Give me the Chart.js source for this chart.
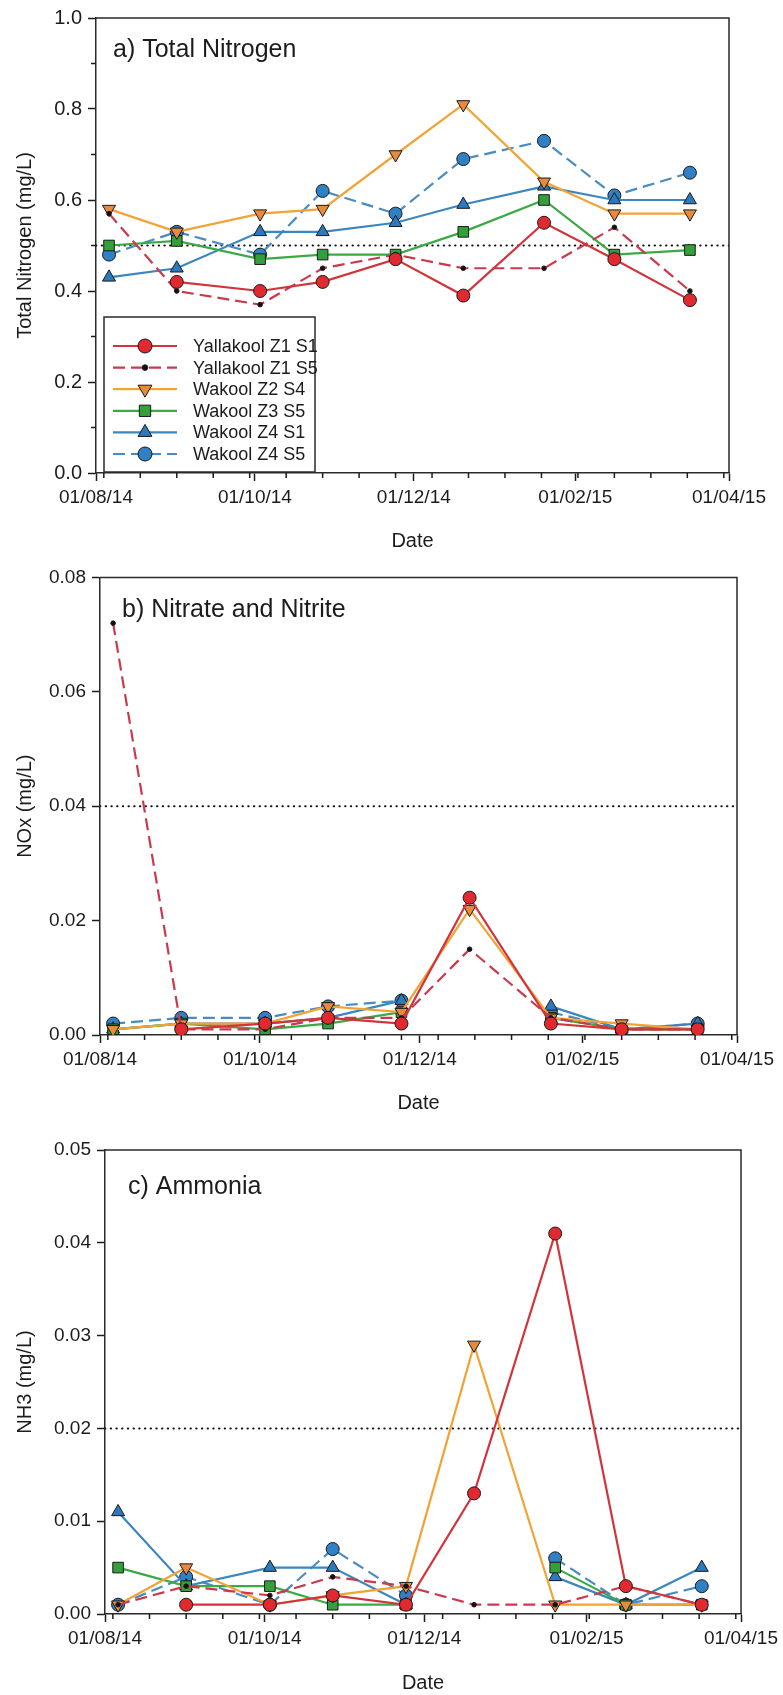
<!DOCTYPE html>
<html>
<head>
<meta charset="utf-8">
<title>Nitrogen – Yallakool and Wakool</title>
<script src="https://cdn.jsdelivr.net/npm/chart.js@4.4.1/dist/chart.umd.min.js"></script>
<style>
  html, body { margin: 0; padding: 0; background: #ffffff; }
  #page { position: relative; width: 783px; height: 1695px; overflow: hidden; }
  canvas { position: absolute; left: 0; }
</style>
</head>
<body>
<div id="page">
  <canvas id="tn" width="783" height="560" style="top:0px"></canvas>
  <canvas id="nox" width="783" height="560" style="top:560px"></canvas>
  <canvas id="nh3" width="783" height="575" style="top:1120px"></canvas>
</div>
<script>
// ---- sampling dates and x axis ----
const sampleDates = ['2014-08-06', '2014-09-01', '2014-10-03', '2014-10-27', '2014-11-24',
                     '2014-12-20', '2015-01-20', '2015-02-16', '2015-03-17'];
const axisTickDates = ['2014-08-01', '2014-10-01', '2014-12-01', '2015-02-01', '2015-04-01'];
const axisTickLabels = ['01/08/14', '01/10/14', '01/12/14', '01/02/15', '01/04/15'];
const minorTickFirstDate = '2014-08-04';   // fortnightly minor ticks
const minorTickStepDays = 14;

const seriesNames = ['Yallakool Z1 S1', 'Yallakool Z1 S5', 'Wakool Z2 S4',
                     'Wakool Z3 S5', 'Wakool Z4 S1', 'Wakool Z4 S5'];

// ---- a) Total nitrogen (mg/L) ----
const tnYallakoolZ1S1 = [null, 0.42, 0.40, 0.42, 0.47, 0.39, 0.55, 0.47, 0.38];
const tnYallakoolZ1S5 = [0.57, 0.40, 0.37, 0.45, 0.48, 0.45, 0.45, 0.54, 0.40];
const tnWakoolZ2S4    = [0.58, 0.53, 0.57, 0.58, 0.70, 0.81, 0.64, 0.57, 0.57];
const tnWakoolZ3S5    = [0.50, 0.51, 0.47, 0.48, 0.48, 0.53, 0.60, 0.48, 0.49];
const tnWakoolZ4S1    = [0.43, 0.45, 0.53, 0.53, 0.55, 0.59, 0.63, 0.60, 0.60];
const tnWakoolZ4S5    = [0.48, 0.53, 0.48, 0.62, 0.57, 0.69, 0.73, 0.61, 0.66];
const tnGuideline = 0.5;
const tnTicks = [0, 0.2, 0.4, 0.6, 0.8, 1.0];
const tnMinorTicks = [0.1, 0.3, 0.5, 0.7, 0.9];

// ---- b) Nitrate and nitrite, NOx (mg/L) ----
const noxYallakoolZ1S1 = [null, 0.001, 0.002, 0.003, 0.002, 0.024, 0.002, 0.001, 0.001];
const noxYallakoolZ1S5 = [0.072, 0.001, 0.001, 0.003, 0.003, 0.015, 0.003, 0.001, 0.001];
const noxWakoolZ2S4    = [0.001, 0.002, 0.002, 0.005, 0.004, 0.022, 0.003, 0.002, 0.001];
const noxWakoolZ3S5    = [0.001, 0.002, 0.001, 0.002, 0.004, null, 0.003, 0.001, 0.001];
const noxWakoolZ4S1    = [0.001, 0.002, 0.002, 0.003, 0.006, null, 0.005, 0.001, 0.002];
const noxWakoolZ4S5    = [0.002, 0.003, 0.003, 0.005, 0.006, null, 0.004, 0.001, 0.002];
const noxGuideline = 0.04;
const noxTicks = [0, 0.02, 0.04, 0.06, 0.08];

// ---- c) Ammonia, NH3 (mg/L) ----
const nh3YallakoolZ1S1 = [null, 0.001, 0.001, 0.002, 0.001, 0.013, 0.041, 0.003, 0.001];
const nh3YallakoolZ1S5 = [0.001, 0.003, 0.002, 0.004, 0.003, 0.001, 0.001, 0.003, 0.001];
const nh3WakoolZ2S4    = [0.001, 0.005, 0.001, 0.002, 0.003, 0.029, 0.001, 0.001, 0.001];
const nh3WakoolZ3S5    = [0.005, 0.003, 0.003, 0.001, 0.001, null, 0.005, 0.001, 0.001];
const nh3WakoolZ4S1    = [0.011, 0.003, 0.005, 0.005, 0.001, null, 0.004, 0.001, 0.005];
const nh3WakoolZ4S5    = [0.001, 0.004, 0.001, 0.007, 0.002, null, 0.006, 0.001, 0.003];
const nh3Guideline = 0.02;
const nh3Ticks = [0, 0.01, 0.02, 0.03, 0.04, 0.05];

// ---- helpers ----
const DAY_MS = 86400000;
function toUTC(s) { const p = s.split('-').map(Number); return Date.UTC(p[0], p[1] - 1, p[2]); }
const originUTC = toUTC(axisTickDates[0]);
const dayOf = s => (toUTC(s) - originUTC) / DAY_MS;
const sampleDays = sampleDates.map(dayOf);
const axisDays = axisTickDates.map(dayOf);
const xMin = axisDays[0], xMax = axisDays[axisDays.length - 1];
const minorXDays = [];
for (let d = dayOf(minorTickFirstDate); d <= xMax; d += minorTickStepDays) minorXDays.push(d);

const FONT = '"Liberation Sans", Arial, Helvetica, sans-serif';
const INK = '#1c1c1c';
Chart.defaults.font.family = FONT;
Chart.defaults.color = INK;

// marker and line styles, one per site
const seriesStyles = [
  { line: '#d1343b', fill: '#e02a30', dash: [],      point: 'circle',   radius: 6.5, rotation: 0 },
  { line: '#c93a4e', fill: '#111111', dash: [12, 6], point: 'circle',   radius: 2.3, rotation: 0 },
  { line: '#f3a235', fill: '#e8893b', dash: [],      point: 'triangle', radius: 7.5, rotation: 180 },
  { line: '#3ba944', fill: '#34a03b', dash: [],      point: 'rect',     radius: 7.5, rotation: 0 },
  { line: '#3a87c0', fill: '#2c79bd', dash: [],      point: 'triangle', radius: 7.5, rotation: 0 },
  { line: '#4a8cc0', fill: '#2f80c4', dash: [12, 6], point: 'circle',   radius: 6.5, rotation: 0 }
];

function buildDatasets(seriesList, guide) {
  const sets = seriesList.map((vals, i) => {
    const st = seriesStyles[i];
    return {
      label: seriesNames[i],
      data: vals.map((v, k) => ({ x: sampleDays[k], y: v })),
      borderColor: st.line,
      borderWidth: 2.2,
      borderDash: st.dash,
      tension: 0,
      spanGaps: false,
      fill: false,
      pointStyle: st.point,
      pointRotation: st.rotation,
      pointRadius: st.radius,
      pointHoverRadius: st.radius,
      pointBackgroundColor: st.fill,
      pointBorderColor: '#1a1a1a',
      pointBorderWidth: 1,
      order: i
    };
  });
  sets.push({
    label: 'guideline',
    data: [{ x: xMin, y: guide }, { x: xMax, y: guide }],
    borderColor: '#111111',
    borderWidth: 2,
    borderDash: [0.4, 5.3],
    borderCapStyle: 'round',
    pointRadius: 0,
    pointHoverRadius: 0,
    fill: false,
    order: 20
  });
  return sets;
}

// top and right sides of the plot frame
const framePlugin = {
  id: 'frame',
  afterDraw(chart) {
    const { ctx, chartArea: a } = chart;
    ctx.save();
    ctx.strokeStyle = '#2a2a2a';
    ctx.lineWidth = 1.5;
    ctx.beginPath();
    ctx.moveTo(a.left, a.top);
    ctx.lineTo(a.right, a.top);
    ctx.lineTo(a.right, a.bottom);
    ctx.stroke();
    ctx.restore();
  }
};

// short minor tick marks on the outside of both axes
const minorTickPlugin = {
  id: 'minorTicks',
  afterDraw(chart, args, opts) {
    const { ctx, chartArea: a, scales } = chart;
    const len = opts.length || 5;
    ctx.save();
    ctx.strokeStyle = INK;
    ctx.lineWidth = 1.5;
    ctx.beginPath();
    (opts.x || []).forEach(v => {
      const px = scales.x.getPixelForValue(v);
      if (px < a.left - 0.5 || px > a.right + 0.5) return;
      ctx.moveTo(px, a.bottom);
      ctx.lineTo(px, a.bottom + len);
    });
    (opts.y || []).forEach(v => {
      const py = scales.y.getPixelForValue(v);
      ctx.moveTo(a.left, py);
      ctx.lineTo(a.left - len, py);
    });
    ctx.stroke();
    ctx.restore();
  }
};

// panel heading written inside the plot area
const panelTitlePlugin = {
  id: 'panelTitle',
  afterDraw(chart, args, opts) {
    if (!opts.text) return;
    const { ctx, chartArea: a } = chart;
    ctx.save();
    ctx.font = opts.size + 'px ' + FONT;
    ctx.fillStyle = INK;
    ctx.textAlign = 'left';
    ctx.textBaseline = 'middle';
    ctx.fillText(opts.text, a.left + opts.dx, a.top + opts.dy);
    ctx.restore();
  }
};

// boxed legend with line samples and markers
const legendBoxPlugin = {
  id: 'legendBox',
  afterDraw(chart, args, opts) {
    if (!opts.show) return;
    const { ctx, chartArea: a } = chart;
    const left = a.left + opts.dx, top = a.top + opts.dy;
    ctx.save();
    ctx.fillStyle = '#ffffff';
    ctx.fillRect(left, top, opts.width, opts.height);
    ctx.strokeStyle = '#2a2a2a';
    ctx.lineWidth = 1.5;
    ctx.strokeRect(left, top, opts.width, opts.height);
    ctx.font = opts.size + 'px ' + FONT;
    ctx.textBaseline = 'middle';
    ctx.textAlign = 'left';
    seriesNames.forEach((name, i) => {
      const st = seriesStyles[i];
      const y = top + opts.firstRow + i * opts.rowStep;
      ctx.strokeStyle = st.line;
      ctx.lineWidth = 2.2;
      ctx.setLineDash(st.dash);
      ctx.beginPath();
      ctx.moveTo(left + 9, y);
      ctx.lineTo(left + 73, y);
      ctx.stroke();
      ctx.setLineDash([]);
      ctx.fillStyle = st.fill;
      ctx.strokeStyle = '#1a1a1a';
      ctx.lineWidth = 1;
      Chart.helpers.drawPoint(ctx, { pointStyle: st.point, rotation: st.rotation, radius: st.radius + 0.5, borderWidth: 1 }, left + 41, y);
      ctx.fillStyle = INK;
      ctx.fillText(name, left + 89, y + 1);
    });
    ctx.restore();
  }
};

function makePanel(id, cfg) {
  return new Chart(document.getElementById(id), {
    type: 'line',
    data: { datasets: buildDatasets(cfg.series, cfg.guide) },
    plugins: [framePlugin, minorTickPlugin, panelTitlePlugin, legendBoxPlugin],
    options: {
      responsive: false,
      devicePixelRatio: 1,
      animation: false,
      events: [],
      layout: { padding: { top: cfg.padTop, right: cfg.padRight, left: 0, bottom: 0 } },
      scales: {
        x: {
          type: 'linear',
          min: xMin,
          max: xMax,
          afterBuildTicks: s => { s.ticks = axisDays.map(v => ({ value: v })); },
          afterFit: s => { s.height = cfg.xHeight; },
          ticks: {
            autoSkip: false,
            maxRotation: 0,
            padding: 5,
            font: { size: 19, family: FONT },
            color: INK,
            callback: v => { const i = axisDays.indexOf(v); return i >= 0 ? axisTickLabels[i] : ''; }
          },
          grid: { drawOnChartArea: false, drawTicks: true, tickLength: 8, tickWidth: 1.5, tickColor: INK, color: INK },
          border: { display: true, color: '#2a2a2a', width: 1.5 },
          title: { display: true, text: 'Date', color: INK, font: { size: 20, family: FONT }, padding: { top: 0, bottom: cfg.dateBottom } }
        },
        y: {
          type: 'linear',
          min: cfg.yTicks[0],
          max: cfg.yTicks[cfg.yTicks.length - 1],
          afterBuildTicks: s => { s.ticks = cfg.yTicks.map(v => ({ value: v })); },
          afterFit: s => { s.width = cfg.yWidth; },
          ticks: {
            padding: 6,
            font: { size: cfg.yTickSize, family: FONT },
            color: INK,
            callback: v => v.toFixed(cfg.decimals)
          },
          grid: { drawOnChartArea: false, drawTicks: true, tickLength: 8, tickWidth: 1.5, tickColor: INK, color: INK },
          border: { display: true, color: '#2a2a2a', width: 1.5 },
          title: { display: true, text: cfg.yTitle, color: INK, font: { size: 20, family: FONT }, padding: { top: 13, bottom: 0 } }
        }
      },
      plugins: {
        legend: { display: false },
        tooltip: { enabled: false },
        minorTicks: { x: minorXDays, y: cfg.yMinor || [], length: 5 },
        panelTitle: cfg.title,
        legendBox: cfg.legend || { show: false }
      }
    }
  });
}

makePanel('tn', {
  series: [tnYallakoolZ1S1, tnYallakoolZ1S5, tnWakoolZ2S4, tnWakoolZ3S5, tnWakoolZ4S1, tnWakoolZ4S5],
  guide: tnGuideline,
  yTicks: tnTicks, yMinor: tnMinorTicks, decimals: 1, yTickSize: 20,
  yTitle: 'Total Nitrogen (mg/L)',
  padTop: 16, padRight: 54, yWidth: 96, xHeight: 87, dateBottom: 7,
  title: { text: 'a) Total Nitrogen', dx: 17, dy: 32, size: 25 },
  legend: { show: true, dx: 8, dy: 299, width: 211, height: 155, firstRow: 29, rowStep: 21.6, size: 18 }
});

makePanel('nox', {
  series: [noxYallakoolZ1S1, noxYallakoolZ1S5, noxWakoolZ2S4, noxWakoolZ3S5, noxWakoolZ4S1, noxWakoolZ4S5],
  guide: noxGuideline,
  yTicks: noxTicks, decimals: 2, yTickSize: 19,
  yTitle: 'NOx (mg/L)',
  padTop: 15, padRight: 46, yWidth: 100, xHeight: 85, dateBottom: 5,
  title: { text: 'b) Nitrate and Nitrite', dx: 22, dy: 33, size: 25 }
});

makePanel('nh3', {
  series: [nh3YallakoolZ1S1, nh3YallakoolZ1S5, nh3WakoolZ2S4, nh3WakoolZ3S5, nh3WakoolZ4S1, nh3WakoolZ4S5],
  guide: nh3Guideline,
  yTicks: nh3Ticks, decimals: 2, yTickSize: 19,
  yTitle: 'NH3 (mg/L)',
  padTop: 30, padRight: 32, yWidth: 105, xHeight: 81, dateBottom: 0,
  title: { text: 'c) Ammonia', dx: 23, dy: 37, size: 25 }
});
</script>
</body>
</html>
